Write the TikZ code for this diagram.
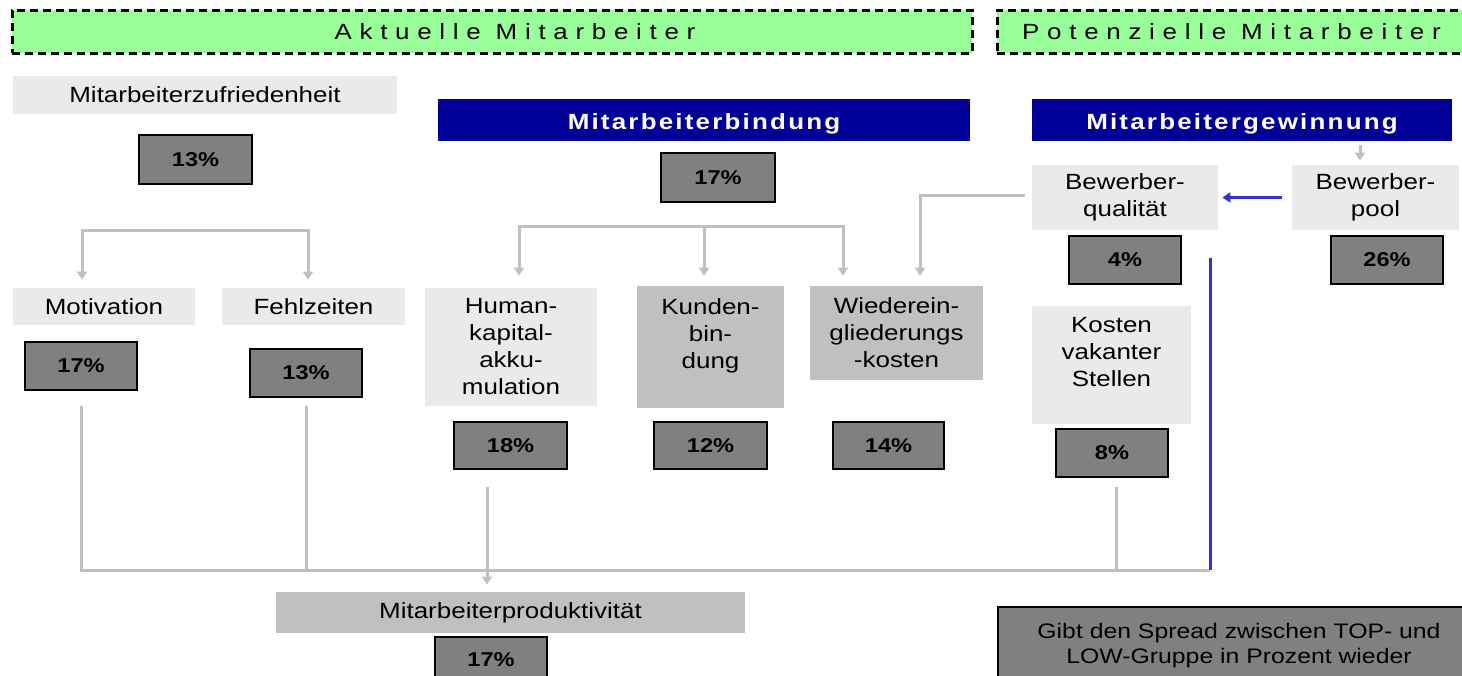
\documentclass[tikz,border=0pt]{standalone}
\usepackage{fontspec}
\setmainfont{Liberation Sans}[FakeStretch=1.18]
\usetikzlibrary{arrows.meta}
\definecolor{bannergreen}{HTML}{99FF99}
\definecolor{navyhead}{HTML}{000099}
\definecolor{lightbox}{HTML}{EAEAEA}
\definecolor{midbox}{HTML}{C0C0C0}
\definecolor{pctgray}{HTML}{808080}
\definecolor{conngray}{HTML}{C0C0C0}
\definecolor{connblue}{HTML}{3333CC}
\newcommand\pxbox[7]{\node[#1, minimum width={(#5-#3)*0.5pt}, minimum height={(#6-#4)*0.5pt}] (#2) at ({(#3+#5)/2},{(#4+#6)/2}) {#7};}
\tikzset{
  banner/.style={draw=black, dash pattern=on 4pt off 2.5pt, line width=1.5pt, fill=bannergreen, inner sep=0pt,
    font=\fontsize{11}{13}\selectfont\addfontfeature{LetterSpace=35}},
  headbox/.style={fill=navyhead, text=white, inner sep=0pt, text height=9pt, text depth=0pt,
    font=\fontsize{11}{13}\selectfont\bfseries\addfontfeature{LetterSpace=10}},
  lbox/.style={fill=lightbox, inner sep=0pt, align=center, font=\fontsize{11}{13.5}\selectfont},
  mbox/.style={fill=midbox, inner sep=0pt, align=center, font=\fontsize{11}{13.5}\selectfont},
  pct/.style={fill=pctgray, draw=black, line width=0.8pt, inner sep=0pt, font=\fontsize{10}{12}\selectfont\bfseries},
  legendbox/.style={fill=pctgray, draw=black, line width=0.8pt, inner sep=0pt, align=center, font=\fontsize{10.5}{12.5}\selectfont},
  gline/.style={draw=conngray, line width=1.5pt},
  gtip/.tip={Triangle[width=5pt,length=4pt]},
  garrow/.style={gline, -gtip},
  gboth/.style={gline, gtip-gtip},
  bline/.style={draw=connblue, line width=1.5pt},
  barrow/.style={bline, -{Triangle[width=5pt,length=4pt]}},
}
\begin{document}
\begin{tikzpicture}[x=0.5pt,y=-0.5pt]
\useasboundingbox (0,0) rectangle (1462,675);
\fill[white] (0,0) rectangle (1462,675);
% banners
\pxbox{banner}{ban1}{12}{10}{972}{53}{\hspace*{23pt}Aktuelle Mitarbeiter}
\pxbox{banner}{ban2}{997}{10}{1466}{53}{Potenzielle Mitarbeiter}
% top row
\pxbox{lbox}{zuf}{13}{76}{397}{114}{Mitarbeiterzufriedenheit}
\pxbox{pct}{p1}{139}{135}{252}{184}{13\%}
\pxbox{headbox}{bind}{438}{99}{970}{141}{Mitarbeiterbindung}
\pxbox{pct}{p2}{661}{153}{775}{202}{17\%}
\pxbox{headbox}{gew}{1032}{99}{1452}{141}{Mitarbeitergewinnung}
\pxbox{lbox}{bq}{1032}{165}{1218}{230}{Bewerber-\\qualität}
\pxbox{lbox}{bp}{1292}{165}{1459}{230}{Bewerber-\\pool}
\pxbox{pct}{p3}{1069}{236}{1181}{284}{4\%}
\pxbox{pct}{p4}{1331}{236}{1443}{284}{26\%}
% middle row
\pxbox{lbox}{mot}{13}{288}{195}{325}{Motivation}
\pxbox{lbox}{feh}{222}{288}{405}{325}{Fehlzeiten}
\pxbox{pct}{p5}{25}{342}{137}{390}{17\%}
\pxbox{pct}{p6}{250}{349}{362}{397}{13\%}
\pxbox{lbox}{hum}{425}{288}{597}{406}{Human-\\kapital-\\akku-\\mulation}
\pxbox{pct}{p7}{454}{422}{567}{469}{18\%}
\pxbox{mbox, text depth=13.5pt}{kun}{637}{286}{784}{408}{Kunden-\\bin-\\dung}
\pxbox{pct}{p8}{654}{422}{767}{469}{12\%}
\pxbox{mbox}{wie}{810}{286}{983}{380}{Wiederein-\\gliederungs\\-kosten}
\pxbox{pct}{p9}{833}{422}{944}{469}{14\%}
\pxbox{lbox, text depth=13.5pt}{kos}{1032}{306}{1191}{424}{Kosten\\vakanter\\Stellen}
\pxbox{pct}{p10}{1056}{429}{1168}{477}{8\%}
% bottom
\pxbox{mbox}{prod}{276}{592}{745}{633}{Mitarbeiterproduktivität}
\pxbox{pct}{p11}{435}{637}{547}{682}{17\%}
\pxbox{legendbox}{leg}{998}{607}{1480}{684}{Gibt den Spread zwischen TOP- und\\LOW-Gruppe in Prozent wieder}
% connectors: Zufriedenheit tree
\coordinate (a1) at (82,230);
\coordinate (a2) at (308,230);
\draw[gboth, shorten <=4pt, shorten >=4pt] (a1 |- mot.north) -- (a1) -- (a2) -- (a2 |- feh.north);
% Bindung tree
\coordinate (b1) at (519,226);
\coordinate (b2) at (704,226);
\coordinate (b3) at (843,226);
\draw[gboth, shorten <=6pt, shorten >=5pt] (b1 |- hum.north) -- (b1) -- (b3) -- (b3 |- wie.north);
\draw[garrow, shorten >=5pt] (b2) -- (b2 |- kun.north);
% Bewerberqualitaet to Wiedereingliederung
\coordinate (c1) at (920,195);
\draw[garrow, shorten <=3.5pt, shorten >=5pt] (bq.west |- c1) -| (c1 |- wie.north);
% Bewerberpool to Bewerberqualitaet
\draw[barrow, shorten <=5pt, shorten >=2pt] (bp.west) -- (bq.east);
% Gewinnung to Bewerberpool
\coordinate (d1) at (1360,141);
\draw[garrow, shorten <=2pt, shorten >=2pt] (d1) -- (d1 |- bp.north);
% bottom collector
\coordinate (e2) at (1210,570);
\draw[gline] ([yshift=-7.5pt]p5.south) |- (e2);
\draw[gline] ([yshift=-4pt]p6.south) -- (p6.south |- e2);
\coordinate (h1) at (487,487);
\draw[garrow, shorten >=3.5pt] (h1) -- (h1 |- prod.north);
\coordinate (k1) at (1116,487);
\draw[gline] (k1) -- (k1 |- e2);
\coordinate (bl) at (1210,258);
\draw[bline] (bl) -- (e2);
\end{tikzpicture}
\end{document}
